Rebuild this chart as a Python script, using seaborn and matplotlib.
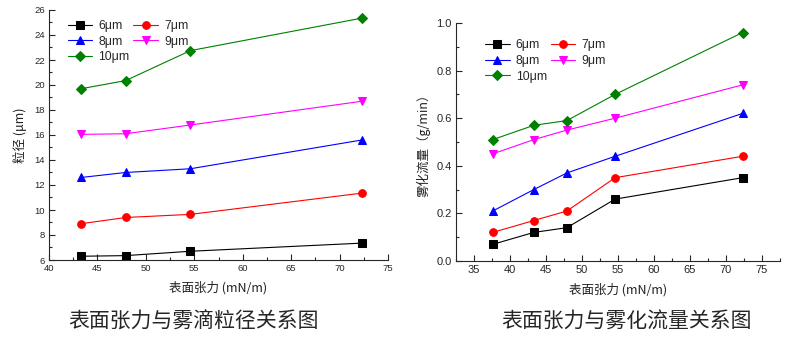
import matplotlib
matplotlib.use("Agg")
import matplotlib.pyplot as plt
import seaborn as sns
import pandas as pd
from matplotlib.ticker import MultipleLocator, FormatStrFormatter

sns.set_style("ticks")
plt.rcParams['font.family'] = ['Liberation Sans', 'Noto Sans CJK SC', 'DejaVu Sans']

series_names = ["6μm", "7μm", "8μm", "9μm", "10μm"]
colors = ["black", "red", "blue", "magenta", "green"]
markers = ["s", "o", "^", "v", "D"]
marker_sizes = [5.5, 5.5, 6, 6, 5]

# Left chart: surface tension vs droplet size
x_left = [43.3, 47.9, 54.6, 72.3]
size_6 = [6.3, 6.35, 6.7, 7.35]
size_7 = [8.9, 9.4, 9.65, 11.35]
size_8 = [12.6, 13.0, 13.3, 15.6]
size_9 = [16.05, 16.1, 16.8, 18.7]
size_10 = [19.7, 20.35, 22.75, 25.35]
left_values = [size_6, size_7, size_8, size_9, size_10]

# Right chart: surface tension vs atomization flow
x_right = [37.6, 43.3, 47.9, 54.6, 72.3]
flow_6 = [0.07, 0.12, 0.14, 0.26, 0.35]
flow_7 = [0.12, 0.17, 0.21, 0.35, 0.44]
flow_8 = [0.21, 0.30, 0.37, 0.44, 0.62]
flow_9 = [0.45, 0.51, 0.55, 0.60, 0.74]
flow_10 = [0.51, 0.57, 0.59, 0.70, 0.96]
right_values = [flow_6, flow_7, flow_8, flow_9, flow_10]

W, H = 797, 340
fig = plt.figure(figsize=(W / 100, H / 100), dpi=100)

ax1 = fig.add_axes([49 / W, (H - 260) / H, (388 - 49) / W, (260 - 10) / H])
ax2 = fig.add_axes([456 / W, (H - 261) / H, (780 - 456) / W, (261 - 23) / H])

cjk = ['Noto Sans CJK SC', 'DejaVu Sans']


def draw(ax, xs, values):
    for name, vals, c, m, ms in zip(series_names, values, colors, markers, marker_sizes):
        df = pd.DataFrame({"x": xs, "y": vals})
        sns.lineplot(data=df, x="x", y="y", ax=ax, color=c, marker=m,
                     markersize=ms, markeredgecolor=c, linewidth=0.8,
                     label=name, legend=False)
    return ax.get_lines()


lines1 = draw(ax1, x_left, left_values)
lines2 = draw(ax2, x_right, right_values)

for ax, ls in ((ax1, 6.8), (ax2, 8)):
    for s in ["top", "right"]:
        ax.spines[s].set_visible(False)
    for s in ["left", "bottom"]:
        ax.spines[s].set_linewidth(0.8)
    ax.tick_params(which="major", direction="in", length=4, width=0.8, labelsize=ls, pad=3)
    ax.tick_params(which="minor", direction="in", length=2.5, width=0.8)

ax1.set_xlim(40, 75)
ax1.set_ylim(6, 26)
ax1.xaxis.set_major_locator(MultipleLocator(5))
ax1.xaxis.set_minor_locator(MultipleLocator(2.5))
ax1.yaxis.set_major_locator(MultipleLocator(2))
ax1.yaxis.set_minor_locator(MultipleLocator(1))

ax2.set_xlim(32.5, 77.5)
ax2.set_ylim(0, 1.0)
ax2.xaxis.set_major_locator(MultipleLocator(5))
ax2.xaxis.set_minor_locator(MultipleLocator(2.5))
ax2.yaxis.set_major_locator(MultipleLocator(0.2))
ax2.yaxis.set_minor_locator(MultipleLocator(0.1))
ax2.yaxis.set_major_formatter(FormatStrFormatter('%.1f'))

lab = dict(family=cjk, fontsize=9, color="#222222")
ax1.set_xlabel("表面张力 (mN/m)", labelpad=6, **lab)
ax1.set_ylabel("粒径 (μm)", labelpad=5, **lab)
ax2.set_xlabel("表面张力 (mN/m)", labelpad=6, **lab)
ax2.set_ylabel("雾化流量（g/min）", labelpad=4, **lab)

order = [0, 2, 4, 1, 3]
for ax, lines, anchor in ((ax1, lines1, (0.056, 0.96)), (ax2, lines2, (0.09, 0.932))):
    ax.legend([lines[i] for i in order], [series_names[i] for i in order],
              ncol=2, loc="upper left", bbox_to_anchor=anchor, frameon=False,
              fontsize=8.8, handlelength=2.0, handletextpad=0.5, columnspacing=0.3,
              labelspacing=0.3, borderaxespad=0, borderpad=0)

fig.text(193 / W, 1 - 322 / H, "表面张力与雾滴粒径关系图", family=cjk,
         fontsize=15, ha="center", va="center")
fig.text(626 / W, 1 - 322 / H, "表面张力与雾化流量关系图", family=cjk,
         fontsize=15, ha="center", va="center")

fig.savefig("out.png", dpi=100)
